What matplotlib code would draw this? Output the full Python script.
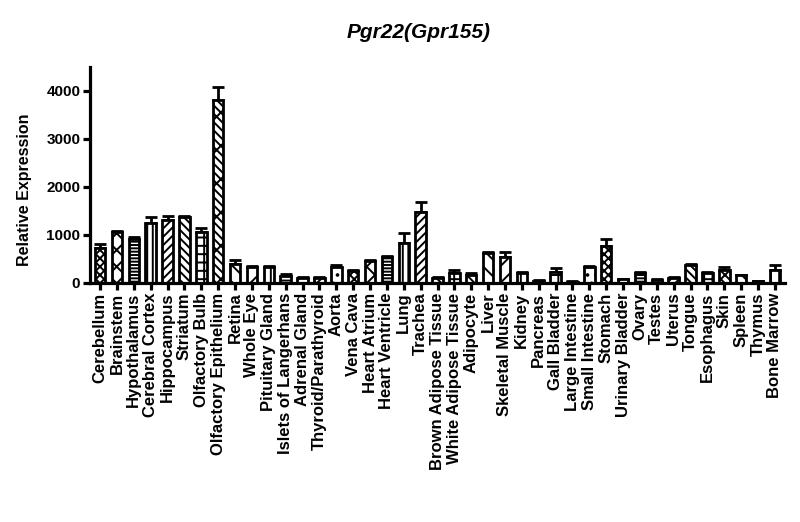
import matplotlib
matplotlib.use("Agg")
import matplotlib.pyplot as plt
import numpy as np

plt.rcParams['font.family'] = ['Liberation Sans', 'DejaVu Sans']
plt.rcParams['font.weight'] = 'bold'
plt.rcParams['hatch.linewidth'] = 1.4

tissues = ["Cerebellum", "Brainstem", "Hypothalamus", "Cerebral Cortex", "Hippocampus",
           "Striatum", "Olfactory Bulb", "Olfactory Epithelium", "Retina", "Whole Eye",
           "Pituitary Gland", "Islets of Langerhans", "Adrenal Gland", "Thyroid/Parathyroid",
           "Aorta", "Vena Cava", "Heart Atrium", "Heart Ventricle", "Lung", "Trachea",
           "Brown Adipose Tissue", "White Adipose Tissue", "Adipocyte", "Liver",
           "Skeletal Muscle", "Kidney", "Pancreas", "Gall Bladder", "Large Intestine",
           "Small Intestine", "Stomach", "Urinary Bladder", "Ovary", "Testes", "Uterus",
           "Tongue", "Esophagus", "Skin", "Spleen", "Thymus", "Bone Marrow"]

expression = [730, 1070, 920, 1240, 1310, 1370, 1070, 3820, 390, 340,
              335, 150, 100, 110, 330, 260, 460, 540, 840, 1480,
              110, 210, 170, 620, 540, 210, 50, 230, 30, 340,
              780, 80, 200, 70, 100, 380, 200, 280, 160, 35, 270]

sem = [90, 20, 40, 140, 80, 20, 70, 260, 80, 15,
       15, 40, 15, 20, 50, 20, 15, 20, 210, 200,
       10, 70, 30, 20, 110, 15, 10, 80, 5, 20,
       130, 10, 20, 10, 20, 10, 20, 50, 15, 5, 110]

yticks = [0, 1000, 2000, 3000, 4000]

# GraphPad-like pattern cycle (15 patterns)
patterns = ['xxxx', 'xx', '-----', '|||', '////', '\\\\\\\\', '++', '\\\\\\\\/',
            '\\\\', '//', '||', '---', '+', 'x', '..']

fig = plt.figure(figsize=(8, 5.22), dpi=100)
ax = fig.add_axes([90/800, 1-283/522, (785-90)/800, (283-67)/522])

x = np.arange(len(tissues))
bars = ax.bar(x, expression, width=0.62, color='white', edgecolor='black',
              linewidth=2.0, zorder=2)
for i, b in enumerate(bars):
    b.set_hatch(patterns[i % len(patterns)])

ax.errorbar(x, expression, yerr=[np.zeros(len(sem)), sem], fmt='none',
            ecolor='black', elinewidth=2.0, capsize=4, capthick=2.0, zorder=1)

ax.set_xlim(-0.6, 40.6)
ax.set_ylim(0, 4500)
ax.set_yticks(yticks)
ax.set_yticklabels([str(v) for v in yticks], fontsize=11, fontweight='bold')
ax.set_xticks(x)
ax.set_xticklabels(tissues, rotation=90, fontsize=12, fontweight='bold')

for s in ['top', 'right']:
    ax.spines[s].set_visible(False)
for s in ['left', 'bottom']:
    ax.spines[s].set_linewidth(2.3)
ax.tick_params(axis='both', direction='out', length=5, width=2.3, pad=2)

ax.set_ylabel("Relative Expression", fontsize=11.5, fontweight='bold')
ax.yaxis.set_label_coords(-0.083, 0.43)

fig.text(419/800, 1-33/522, "Pgr22(Gpr155)", fontsize=15, fontweight='bold',
         fontstyle='italic', ha='center', va='center')

fig.savefig("out.png", dpi=100)
